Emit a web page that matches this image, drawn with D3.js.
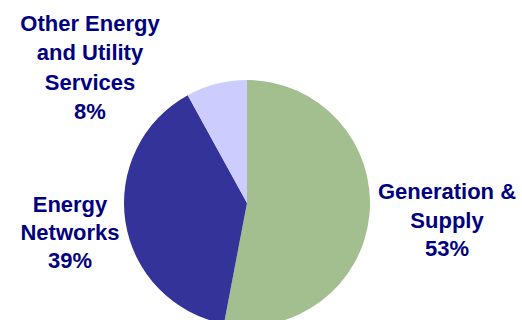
<!DOCTYPE html>
<html><head><meta charset="utf-8">
<script src="https://cdn.jsdelivr.net/npm/d3@7"></script>
<style>body{margin:0;background:#fff}svg{display:block}</style>
</head><body>
<svg id="c" width="522" height="320"></svg>
<script>
const categories = ["Generation & Supply", "Energy Networks", "Other Energy and Utility Services"];
const values = [53, 39, 8];
const colors = ["#A3BE8F", "#333399", "#CCCCFF"];
const labelLines = [["Generation &", "Supply", "53%"], ["Energy", "Networks", "39%"], ["Other Energy", "and Utility", "Services", "8%"]];

const svg = d3.select("#c");
const cx = 247, cy = 203, r = 123;
const data = categories.map((c, i) => ({name: c, value: values[i], color: colors[i], lines: labelLines[i]}));
const pie = d3.pie().sort(null).value(d => d.value);
const arc = d3.arc().innerRadius(0).outerRadius(r);
const g = svg.append("g").attr("transform", `translate(${cx},${cy})`);
g.selectAll("path").data(pie(data)).join("path")
  .attr("d", arc).attr("fill", d => d.data.color);

const labelPos = [[447, 199, 28.5], [70, 212, 28], [90, 31, 29.3]];
data.forEach((d, i) => {
  const [x, y, lh] = labelPos[i];
  const t = svg.append("text").attr("text-anchor", "middle")
    .attr("font-family", "Liberation Sans, Arial, sans-serif")
    .attr("font-weight", "bold").attr("font-size", 22).attr("fill", "#000080");
  d.lines.forEach((l, j) => t.append("tspan").attr("x", x).attr("y", y + j * lh).text(l));
});
</script>
</body></html>
